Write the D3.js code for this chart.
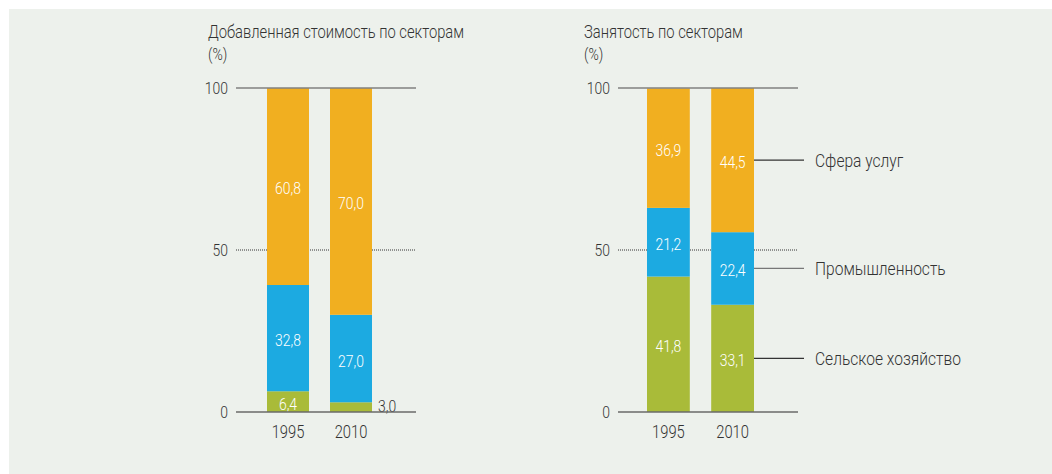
<!DOCTYPE html>
<html>
<head>
<meta charset="utf-8">
<script src="https://cdn.jsdelivr.net/npm/d3@7"></script>
<style>
  body { margin: 0; background: #fff; }
  svg text { font-family: "Roboto", "Liberation Sans", sans-serif; font-weight: 300; }
</style>
</head>
<body>
<svg id="chart" width="1052" height="474"></svg>
<script>
// data
const years = ["1995", "2010"];
const sectors = ["Сельское хозяйство", "Промышленность", "Сфера услуг"];
const valueAdded = [[6.4, 32.8, 60.8], [3.0, 27.0, 70.0]];
const employment = [[41.8, 21.2, 36.9], [33.1, 22.4, 44.5]];
const yTicks = [0, 50, 100];
const colors = ["#a9bb39", "#1caae1", "#f1af20"];

const NARROW = 0.82; // squeeze text horizontally, the original uses a condensed face

const svg = d3.select("#chart");

svg.append("rect")
    .attr("x", 9).attr("y", 9)
    .attr("width", 1043).attr("height", 465)
    .attr("fill", "#edf1ec");

const y = d3.scaleLinear().domain([0, 100]).range([412, 88]);

// positioned text with condensed look
function place(sel, fx, fy) {
    return sel.attr("transform", (d, i) => `translate(${fx(d, i)},${fy(d, i)}) scale(${NARROW},1)`);
}

function drawPanel(opts) {
    const g = svg.append("g");
    const x = d3.scaleBand().domain(years).range([opts.x0, opts.x1]).paddingInner(1 / 3);

    // titles
    place(g.append("text"), () => opts.titleX, () => 38)
        .attr("font-size", 18).attr("fill", "#333")
        .text(opts.title);
    place(g.append("text"), () => opts.titleX, () => 60)
        .attr("font-size", 17).attr("fill", "#333")
        .text("(%)");

    // dotted 50 line (behind bars)
    g.append("line")
        .attr("x1", opts.lineX0).attr("x2", opts.lineX1)
        .attr("y1", y(50)).attr("y2", y(50))
        .attr("stroke", "#333").attr("stroke-width", 1)
        .attr("stroke-dasharray", "1,1");

    // stacked bars
    const data = opts.values.map((v, i) => {
        let acc = 0;
        return v.map((val, k) => {
            const seg = { year: years[i], k: k, val: val, y0: acc, y1: acc + val };
            acc += val;
            return seg;
        });
    });

    const bars = g.selectAll(".year").data(data).join("g");
    bars.selectAll("rect").data(d => d).join("rect")
        .attr("x", d => x(d.year))
        .attr("width", x.bandwidth())
        .attr("y", d => y(d.y1))
        .attr("height", d => y(d.y0) - y(d.y1))
        .attr("fill", d => colors[d.k]);

    place(bars.selectAll("text").data(d => d).join("text"),
        d => d.val < 5 ? x(d.year) + x.bandwidth() + 6 : x(d.year) + x.bandwidth() / 2,
        d => d.val < 5 ? y(d.y0) : (y(d.y0) + y(d.y1)) / 2 + 8)
        .attr("text-anchor", d => d.val < 5 ? "start" : "middle")
        .attr("font-size", 17)
        .attr("fill", d => d.val < 5 ? "#333" : "#fff")
        .text(d => d3.format(".1f")(d.val).replace(".", ","));

    // top and bottom lines
    g.append("line")
        .attr("x1", opts.lineX0).attr("x2", opts.lineX1)
        .attr("y1", y(100)).attr("y2", y(100))
        .attr("stroke", "#808080").attr("stroke-width", 1.5);
    g.append("line")
        .attr("x1", opts.lineX0).attr("x2", opts.lineX1)
        .attr("y1", y(0)).attr("y2", y(0))
        .attr("stroke", "#6a6a6a").attr("stroke-width", 1.5);

    // y tick labels
    place(g.selectAll(".tick").data(yTicks).join("text"),
        () => opts.lineX0 - 8, d => y(d) + 6)
        .attr("text-anchor", "end")
        .attr("font-size", 17).attr("fill", "#333")
        .text(d => d);

    // year labels
    place(g.selectAll(".yr").data(years).join("text"),
        d => x(d) + x.bandwidth() / 2, () => 438)
        .attr("text-anchor", "middle")
        .attr("font-size", 18).attr("fill", "#333")
        .text(d => d);

    return { x: x, data: data };
}

drawPanel({
    title: "Добавленная стоимость по секторам",
    titleX: 208, values: valueAdded,
    x0: 267, x1: 372, lineX0: 236, lineX1: 416
});

const right = drawPanel({
    title: "Занятость по секторам",
    titleX: 584, values: employment,
    x0: 647, x1: 754, lineX0: 618, lineX1: 798
});

// legend, aligned to the 2010 employment segments
const last = right.data[1];
const legend = svg.append("g").selectAll("g").data(last).join("g");
legend.append("line")
    .attr("x1", right.x("2010") + right.x.bandwidth()).attr("x2", 804)
    .attr("y1", d => (y(d.y0) + y(d.y1)) / 2)
    .attr("y2", d => (y(d.y0) + y(d.y1)) / 2)
    .attr("stroke", d => d.k === 1 ? "#777" : "#333")
    .attr("stroke-width", 1.2);
place(legend.append("text"), () => 815, d => (y(d.y0) + y(d.y1)) / 2 + 7)
    .attr("font-size", 19).attr("fill", "#333")
    .text(d => sectors[d.k]);
</script>
</body>
</html>
